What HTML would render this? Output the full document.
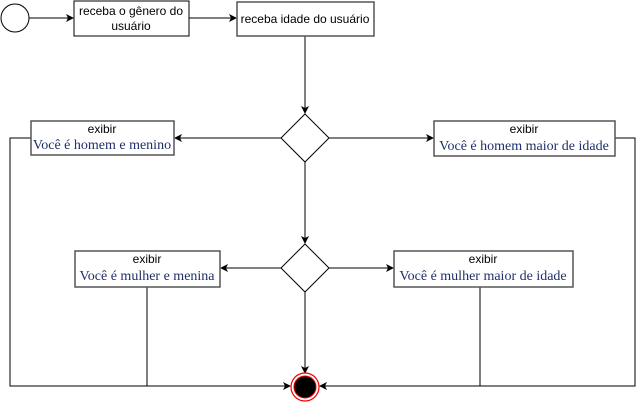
<!DOCTYPE html>
<html><head><style>body{margin:0;background:#fff}</style></head><body>
<svg width="643" height="404" xmlns="http://www.w3.org/2000/svg" font-family="Liberation Sans, sans-serif">
<defs><marker id="a" markerWidth="8" markerHeight="8" refX="7" refY="4" orient="auto" markerUnits="userSpaceOnUse"><path d="M0,0 L8,4 L0,8 L2,4z" fill="#000"/></marker></defs>
<g stroke="#000" stroke-width="1" fill="none">
<circle cx="15" cy="18" r="14"/>
<line x1="29" y1="18" x2="73" y2="18" marker-end="url(#a)"/>
<line x1="189" y1="18" x2="236" y2="18" marker-end="url(#a)"/>
<line x1="305" y1="36" x2="305" y2="113" marker-end="url(#a)"/>
<polygon points="305,114 329,138 305,162 281,138"/>
<line x1="281" y1="138" x2="175" y2="138" marker-end="url(#a)"/>
<line x1="329" y1="138" x2="433" y2="138" marker-end="url(#a)"/>
<line x1="305" y1="162" x2="305" y2="243" marker-end="url(#a)"/>
<polygon points="305,244 329,268 305,292 281,268"/>
<line x1="281" y1="268" x2="221" y2="268" marker-end="url(#a)"/>
<line x1="329" y1="268" x2="393" y2="268" marker-end="url(#a)"/>
<line x1="305" y1="292" x2="305" y2="373" marker-end="url(#a)"/>
<polyline points="31,138 10,138 10,386 290,386" marker-end="url(#a)"/>
<polyline points="615,138 635,138 635,386 320,386" marker-end="url(#a)"/>
<line x1="147" y1="287" x2="147" y2="386"/>
<line x1="480" y1="287" x2="480" y2="386"/>
</g>
<g fill="#fff" stroke="#555" stroke-width="1.5">
<rect x="74" y="1" width="115" height="35" stroke="#000" stroke-width="1"/>
<rect x="237" y="2" width="137" height="34"/>
<rect x="31" y="121" width="143" height="34"/>
<rect x="434" y="121" width="181" height="35"/>
<rect x="75" y="251" width="145" height="36"/>
<rect x="394" y="251" width="179" height="36"/>
</g>
<circle cx="305" cy="387" r="14" fill="#fff" stroke="#e00" stroke-width="1.2"/>
<circle cx="305" cy="387" r="11" fill="#000" stroke="#e00" stroke-width="1"/>
<g font-size="12" text-anchor="middle" fill="#000">
<text x="131" y="15">receba o gênero do</text>
<text x="131" y="30">usuário</text>
<text x="305" y="23">receba idade do usuário</text>
<text x="102" y="133">exibir</text>
<text x="524" y="133">exibir</text>
<text x="147" y="263">exibir</text>
<text x="483" y="263">exibir</text>
</g>
<g font-family="Liberation Serif, serif" font-size="14" text-anchor="middle" fill="#1f2f6b">
<text x="102" y="149">Você é homem e menino</text>
<text x="524" y="150">Você é homem maior de idade</text>
<text x="147" y="280">Você é mulher e menina</text>
<text x="483" y="280">Você é mulher maior de idade</text>
</g>
</svg>
</body></html>
